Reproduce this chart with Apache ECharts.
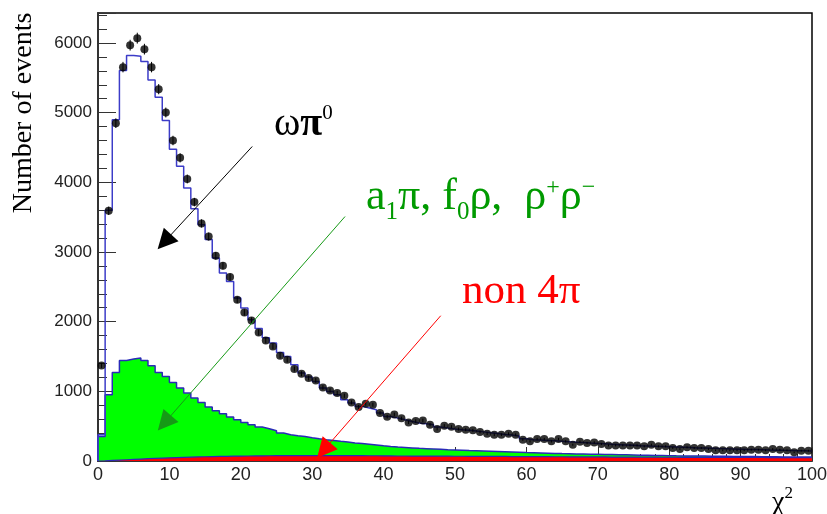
<!DOCTYPE html>
<html>
<head>
<meta charset="utf-8">
<script src="https://cdn.jsdelivr.net/npm/echarts@6/dist/echarts.min.js"></script>
<style>
  html, body { margin: 0; padding: 0; background: #fff; }
  #chi2 { width: 827px; height: 514px; }
</style>
</head>
<body>
<div id="chi2"></div>
<script>
// chi2 bins 0..100, width 1
const dataCounts = [
  1372, 3591, 4849, 5653, 5968, 6069, 5911, 5653, 5337, 5002,
  4600, 4351, 4048, 3716, 3410, 3222, 2945, 2802, 2640, 2314,
  2132, 2017, 1845, 1730, 1644, 1511, 1453, 1320, 1252, 1191,
  1156, 1056, 1013, 976, 937, 841, 775, 822, 808, 689,
  636, 669, 612, 554, 575, 583, 521, 461, 506, 492,
  459, 449, 440, 416, 392, 377, 377, 392, 377, 306,
  282, 315, 315, 282, 315, 282, 234, 277, 258, 267,
  244, 224, 224, 224, 224, 224, 210, 234, 210, 210,
  187, 172, 196, 187, 187, 172, 153, 153, 153, 153,
  153, 163, 163, 153, 172, 163, 153, 124, 148, 148
];

// total MC (blue line)
const mcTotal = [
  377, 3600, 4897, 5604, 5819, 5810, 5733, 5470, 5222, 4887,
  4476, 4232, 3917, 3620, 3390, 3180, 2912, 2697, 2577, 2339,
  2195, 2027, 1900, 1770, 1693, 1558, 1501, 1382, 1262, 1205,
  1142, 1047, 999, 951, 880, 832, 784, 760, 736, 689,
  640, 617, 593, 568, 545, 535, 521, 488, 473, 459,
  449, 440, 430, 418, 405, 393, 382, 372, 360, 320,
  305, 300, 295, 290, 285, 278, 270, 265, 258, 252,
  246, 240, 235, 230, 225, 220, 216, 212, 208, 204,
  200, 196, 192, 188, 185, 182, 178, 175, 172, 169,
  166, 164, 161, 158, 156, 153, 151, 148, 146, 144
];

// a1 pi, f0 rho, rho+ rho- (green)
const mcOther4pi = [
  353, 951, 1271, 1444, 1463, 1478, 1444, 1368, 1271, 1214,
  1128, 1047, 976, 904, 841, 775, 722, 679, 631, 593,
  554, 521, 488, 463, 435, 402, 377, 363, 353, 335,
  320, 306, 294, 282, 271, 260, 250, 240, 230, 218,
  207, 200, 194, 188, 182, 177, 172, 167, 162, 158,
  154, 150, 147, 144, 141, 137, 133, 129, 125, 121,
  118, 115, 112, 109, 106, 104, 102, 100, 98, 96,
  94, 92, 90, 88, 86, 84, 82, 80, 78, 76,
  74, 73, 72, 71, 70, 69, 68, 67, 66, 65,
  64, 63, 62, 61, 60, 59, 58, 58, 57, 57
];

// non 4pi (red)
const mcNon4pi = [
  3, 8, 13, 18, 23, 28, 33, 37, 41, 45,
  49, 52, 55, 58, 61, 63, 65, 67, 69, 71,
  72, 73, 74, 75, 76, 77, 77, 78, 78, 78,
  78, 78, 78, 77, 77, 76, 76, 75, 75, 74,
  73, 72, 72, 71, 71, 70, 70, 69, 69, 68,
  68, 67, 67, 66, 66, 65, 65, 64, 64, 63,
  63, 62, 62, 61, 61, 60, 60, 59, 59, 58,
  58, 57, 57, 56, 56, 55, 55, 55, 54, 54,
  54, 53, 53, 53, 52, 52, 52, 51, 51, 51,
  50, 50, 50, 49, 49, 49, 48, 48, 48, 47
];

// arrows (chi2, events): start -> head centre
const arrowOmega = [[21.6, 4514], [9.3, 3145]];
const arrowOther = [[34.6, 3509], [9.3, 545]];
const arrowNon4pi = [[48.0, 2085], [31.6, 153]];

const Y_MAX = 6430;

function histData(vals) {
  const out = [[0, 0]];
  vals.forEach((v, i) => out.push([i, v]));
  out.push([vals.length, vals[vals.length - 1]]);
  return out;
}

const serif = '"Liberation Serif", "Times New Roman", serif';
const sans = '"Liberation Sans", Arial, Helvetica, sans-serif';

// lay out text pieces (sub/superscripts) one after another
const measureCtx = document.createElement('canvas').getContext('2d');
function textRun(x, baseline, color, parts) {
  let cx = x;
  const els = [];
  parts.forEach(p => {
    const [t, size, dy, weight] = p;
    const font = (weight || 'normal') + ' ' + size + 'px ' + serif;
    measureCtx.font = font;
    els.push({
      type: 'text',
      x: cx,
      y: baseline + dy - size * 0.32,
      z: 100,
      style: {
        text: t, font: font, fill: color,
        textAlign: 'left', textVerticalAlign: 'middle', verticalAlign: 'middle'
      }
    });
    cx += measureCtx.measureText(t).width;
  });
  return els;
}

function arrow(pts, color) {
  return [
    { coord: pts[0], lineStyle: { color: color }, itemStyle: { color: color } },
    { coord: pts[1], lineStyle: { color: color }, itemStyle: { color: color } }
  ];
}

const chart = echarts.init(document.getElementById('chi2'), null, { renderer: 'canvas' });

const graphics = [].concat(
  [{
    type: 'text', x: 24, y: 113, rotation: Math.PI / 2, z: 100,
    style: {
      text: 'Number of events', font: '28px ' + serif, fill: '#000',
      textAlign: 'center', textVerticalAlign: 'middle', align: 'center', verticalAlign: 'middle'
    }
  }],
  textRun(274, 137, '#000', [['ω', 40, 0], ['π', 40, 0, 'bold'], ['0', 21, -17]]),
  textRun(366, 212, '#009a00', [
    ['a', 44, 0], ['1', 25, 8], ['π, f', 44, 0], ['0', 25, 8], ['ρ,  ρ', 44, 0],
    ['+', 24, -17], ['ρ', 44, 0], ['−', 24, -17]
  ]),
  textRun(462, 305, '#ff0000', [['non 4π', 43, 0]]),
  textRun(772, 512, '#000', [['χ', 28, 0], ['2', 17, -13]])
);

const option = {
  animation: false,
  backgroundColor: '#fff',
  grid: {
    left: 98, right: 15, top: 13, bottom: 53,
    show: true, borderColor: '#000', borderWidth: 1.5,
    containLabel: false, outerBoundsMode: 'none'
  },
  xAxis: {
    type: 'value', min: 0, max: 100, interval: 10,
    axisLine: { show: true, onZero: false, lineStyle: { color: '#333', width: 1.5 } },
    axisTick: { show: true, inside: true, length: 14, lineStyle: { color: '#333', width: 1 } },
    minorTick: { show: true, splitNumber: 5, length: 7, lineStyle: { color: '#333', width: 1 } },
    axisLabel: { color: '#222', fontSize: 18, fontFamily: sans, margin: 5 },
    splitLine: { show: false }
  },
  yAxis: [
    {
      type: 'value', min: 0, max: Y_MAX, interval: 1000, position: 'left',
      axisLine: { show: true, onZero: false, lineStyle: { color: '#333', width: 2 } },
      axisTick: { show: true, inside: true, length: 18, lineStyle: { color: '#333', width: 1 } },
      axisLabel: {
        color: '#222', fontSize: 17, fontFamily: sans, margin: 6,
        formatter: v => (v % 1000 === 0 ? String(v) : '')
      },
      splitLine: { show: false }
    },
    {
      type: 'value', min: 0, max: Y_MAX, interval: 200, position: 'left', offset: 0,
      axisLine: { show: false },
      axisTick: { show: true, inside: true, length: 9, lineStyle: { color: '#333', width: 1 } },
      axisLabel: { show: false },
      splitLine: { show: false }
    }
  ],
  series: [
    {
      name: 'a1pi, f0rho, rho rho', type: 'line', step: 'end', z: 2,
      data: histData(mcOther4pi), showSymbol: false, symbol: 'none',
      lineStyle: { color: '#2a2ab8', width: 1.5 },
      areaStyle: { color: '#00ff00', opacity: 1 }
    },
    {
      name: 'non 4pi', type: 'line', step: 'end', z: 3,
      data: histData(mcNon4pi), showSymbol: false, symbol: 'none',
      lineStyle: { color: '#2a2ab8', width: 1.2 },
      areaStyle: { color: '#ff0000', opacity: 1 }
    },
    {
      name: 'MC total', type: 'line', step: 'end', z: 4,
      data: histData(mcTotal), showSymbol: false, symbol: 'none',
      lineStyle: { color: '#3c3cc8', width: 1.5 }
    },
    {
      name: 'errors', type: 'custom', z: 5,
      data: dataCounts.map((v, i) => [i + 0.5, v, Math.sqrt(v)]),
      renderItem: (params, api) => {
        const x = api.value(0), y = api.value(1), e = api.value(2);
        const a = api.coord([x, y + e]), b = api.coord([x, y - e]);
        return {
          type: 'line',
          shape: { x1: a[0], y1: a[1], x2: b[0], y2: b[1] },
          style: { stroke: '#000', lineWidth: 1 }
        };
      }
    },
    {
      name: 'data', type: 'scatter', z: 6,
      data: dataCounts.map((v, i) => [i + 0.5, v]),
      symbol: 'circle', symbolSize: 8,
      itemStyle: { color: '#000' },
      markLine: {
        silent: true, z: 7,
        symbol: ['none', 'triangle'], symbolSize: 20,
        label: { show: false },
        emphasis: { disabled: true },
        lineStyle: { width: 1, type: 'solid' },
        data: [
          arrow(arrowOmega, '#000'),
          arrow(arrowOther, '#169a16'),
          arrow(arrowNon4pi, '#ff0000')
        ]
      }
    }
  ],
  graphic: graphics
};

chart.setOption(option);

window.addEventListener('resize', function () {
  chart.resize();
});
</script>
</body>
</html>
